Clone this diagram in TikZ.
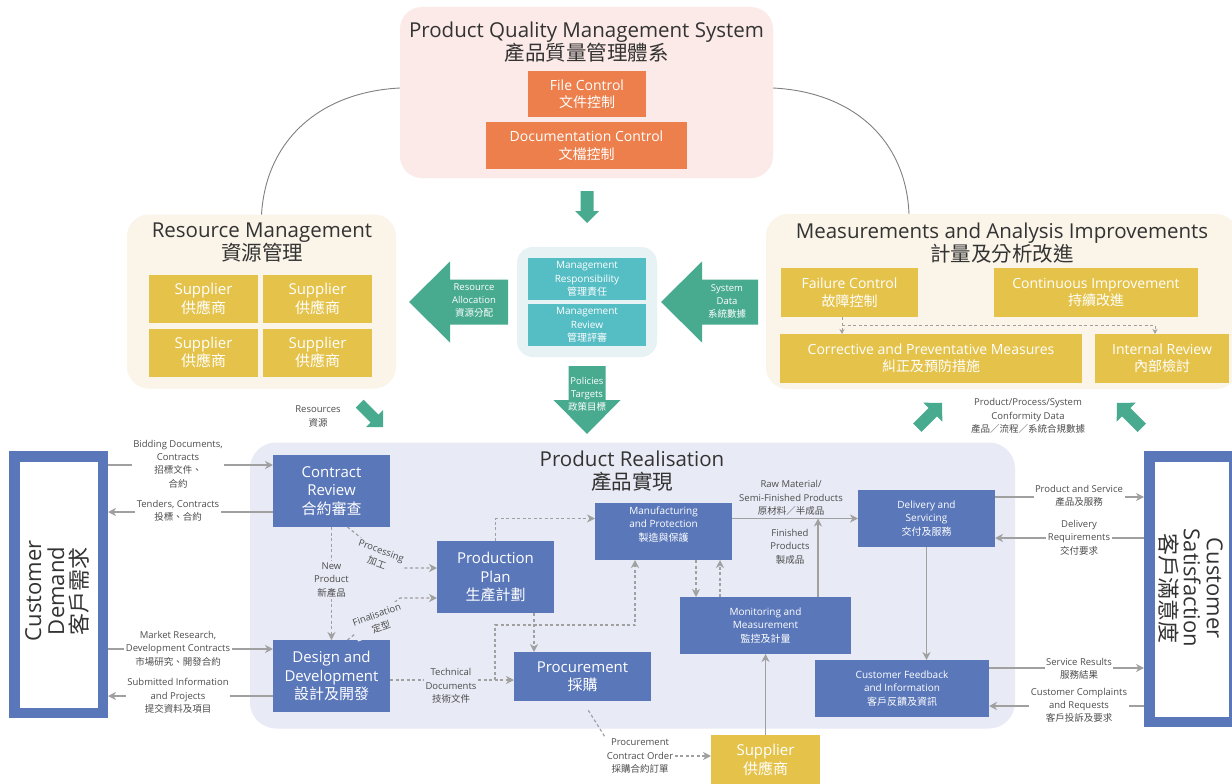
\documentclass[tikz,border=0pt]{standalone}
\usepackage{fontspec}
\setmainfont{Open Sans}
\newfontfamily\cjk{Noto Sans CJK TC}
\newcommand{\zh}[1]{{\cjk #1}}
\usetikzlibrary{arrows.meta,calc}
\definecolor{bluebox}{HTML}{5A77BA}
\definecolor{yel}{HTML}{E5C34B}
\definecolor{grn}{HTML}{48AA8F}
\definecolor{tealbox}{HTML}{55BDC4}
\definecolor{lav}{HTML}{E8EAF5}
\definecolor{cream}{HTML}{FAF4E9}
\definecolor{pinkbg}{HTML}{FBEAE7}
\definecolor{orng}{HTML}{EC7F4B}
\definecolor{lblue}{HTML}{E6F2F4}
\definecolor{lgray}{HTML}{A0A0A0}
\definecolor{labelc}{HTML}{4D4D4D}
\definecolor{titlec}{HTML}{333333}
\newcommand{\fatarrow}[7]{\fill[grn, shift={(#1,#2)}, rotate=#3] (0,0) -- (-#5,#6/2) -- (-#5,#7/2) -- (-#4,#7/2) -- (-#4,-#7/2) -- (-#5,-#7/2) -- (-#5,-#6/2) -- cycle;}
\tikzset{
 panel/.style={rounded corners=22pt, inner sep=0pt, outer sep=0pt},
 box/.style={inner sep=0pt, outer sep=0pt, align=center, text=white},
 bbox/.style={box, fill=bluebox},
 ybox/.style={box, fill=yel},
 obox/.style={box, fill=orng},
 tbox/.style={box, fill=tealbox},
 fbig/.style={font=\fontsize{15}{18.5}\selectfont},
 fmid/.style={font=\fontsize{14}{17.5}\selectfont},
 fsmall/.style={font=\fontsize{10}{13.3}\selectfont},
 ttl/.style={inner sep=0pt, align=center, text=titlec, font=\fontsize{20.5}{23}\selectfont},
 lbl/.style={inner sep=1.5pt, align=center, text=labelc, font=\fontsize{9.5}{13.3}\selectfont},
 glbl/.style={inner sep=0pt, align=center, text=white, font=\fontsize{9.5}{13}\selectfont},
 conn/.style={draw=lgray, line width=1.4pt, -{Stealth[length=8pt,width=8pt,inset=2.5pt]}},
 dsh/.style={conn, line width=1.2pt, dash pattern=on 3pt off 2.5pt},
 smalltip/.style={-{Stealth[length=5pt,width=5pt]}},
 curve/.style={draw=gray, line width=0.9pt},
 cbord/.style={draw=bluebox, line width=10.5pt, fill=white, inner sep=0pt, outer sep=5.25pt},
 ctext/.style={align=center, text=titlec, inner sep=0pt, font=\fontsize{22}{23}\selectfont},
}
\begin{document}
\begin{tikzpicture}[x=1pt,y=-1pt]
\useasboundingbox (0,0) rectangle (1232,784);
\fill[white] (0,0) rectangle (1232,784);

% ---------- panels ----------
\node[panel, fill=pinkbg, minimum width=373, minimum height=171] (pqms) at (586.5,92.5) {};
\node[panel, fill=cream, minimum width=269, minimum height=174] (rm) at (261.5,301.5) {};
\node[panel, fill=cream, minimum width=472, minimum height=175] (mai) at (1002,301.5) {};
\node[panel, rounded corners=16pt, fill=lblue, minimum width=140, minimum height=110] (mg) at (587,302) {};
\node[panel, rounded corners=26pt, fill=lav, minimum width=765, minimum height=286] (pr) at (632.5,585.5) {};

% ---------- curves ----------
\coordinate (pqL) at (400,88);
\coordinate (pqR) at (773,88);
\coordinate (maiN) at (909,214);
\draw[curve] (pqL) .. controls (320,92) and (266,140) .. (rm.north);
\draw[curve] (pqR) .. controls (853,92) and (906,140) .. (maiN);

% ---------- titles ----------
\node[ttl] (pqmsT) at (586.5,42) {Product Quality Management System\\\zh{產品質量管理體系}};
\node[ttl] (rmT) at (262,242.5) {Resource Management\\\zh{資源管理}};
\node[ttl] (maiT) at (1002,243) {Measurements and Analysis Improvements\\\zh{計量及分析改進}};
\node[ttl] (prT) at (632,471) {Product Realisation\\\zh{產品實現}};

% ---------- PQMS boxes ----------
\node[obox, fmid, minimum width=118, minimum height=46] (fc) at (587,94) {File Control\\\zh{文件控制}};
\node[obox, fmid, minimum width=201, minimum height=47] (dc) at (586.5,145.5) {Documentation Control\\\zh{文檔控制}};

% ---------- Resource management ----------
\node[ybox, fbig, minimum width=109, minimum height=48] (s1) at (203.5,299) {Supplier\\\zh{供應商}};
\node[ybox, fbig, minimum width=109, minimum height=48] (s2) at (317.5,299) {Supplier\\\zh{供應商}};
\node[ybox, fbig, minimum width=109, minimum height=48] (s3) at (203.5,352.5) {Supplier\\\zh{供應商}};
\node[ybox, fbig, minimum width=109, minimum height=48] (s4) at (317.5,352.5) {Supplier\\\zh{供應商}};

% ---------- management ----------
\node[tbox, fsmall, minimum width=118, minimum height=42] (mresp) at (587,279) {Management\\Responsibility\\\zh{管理責任}};
\node[tbox, fsmall, minimum width=118, minimum height=42] (mrev) at (587,325) {Management\\Review\\\zh{管理評審}};

% ---------- MAI boxes ----------
\node[ybox, fmid, minimum width=137, minimum height=49] (fail) at (849.5,292.5) {Failure Control\\\zh{故障控制}};
\node[ybox, fmid, minimum width=204, minimum height=49] (cont) at (1096,292.5) {Continuous Improvement\\\zh{持續改進}};
\node[ybox, fmid, minimum width=302, minimum height=49] (corr) at (931,358.5) {Corrective and Preventative Measures\\\zh{糾正及預防措施}};
\node[ybox, fmid, minimum width=134, minimum height=49] (irev) at (1162,358.5) {Internal Review\\\zh{內部檢討}};
\coordinate (mj) at (842,325);
\coordinate (mk) at (1155,325);
\draw[dsh, smalltip, line width=1pt] (fail.south -| mj) -- (corr.north -| mj);
\draw[dsh, smalltip, line width=1pt] (mj) -- (mk) -- (irev.north -| mk);

% ---------- fat green arrows ----------
\fatarrow{587}{223}{-90}{32}{12}{24}{13}
\fatarrow{409}{302}{180}{99}{41}{81}{45}
\fatarrow{661}{302}{180}{97}{41}{81}{45}
\fatarrow{587}{434}{-90}{68}{34}{67}{37}
\fatarrow{383}{427}{-45}{33}{12}{24}{11}
\fatarrow{942}{403}{45}{35}{13}{27}{12}
\fatarrow{1117}{403}{135}{35}{13}{27}{12}
\node[glbl] (ra) at (474,301) {Resource\\Allocation\\\zh{資源分配}};
\node[glbl] (sd) at (727,301) {System\\Data\\\zh{系統數據}};
\node[glbl] (pt) at (587,394) {Policies\\Targets\\\zh{政策目標}};
\node[lbl] (res) at (318,416.5) {Resources\\\zh{資源}};
\node[lbl] (conf) at (1028,416) {Product/Process/System\\Conformity Data\\\zh{產品／流程／系統合規數據}};

% ---------- customer boxes ----------
\node[cbord, minimum width=88.5, minimum height=256.5] (cd) at (58.5,584.5) {};
\node[ctext, rotate=90] (cdT) at (57,591) {Customer\\Demand\\\zh{客戶需求}};
\node[cbord, minimum width=84.5, minimum height=265.5] (cs) at (1191.5,589) {};
\node[ctext, rotate=-90] (csT) at (1191,588) {Customer\\Satisfaction\\\zh{客戶滿意度}};

% ---------- realisation boxes ----------
\node[bbox, fbig, minimum width=117, minimum height=72] (cr) at (331.5,491) {Contract\\Review\\\zh{合約審查}};
\node[bbox, fbig, minimum width=117, minimum height=72] (dd) at (331.5,676) {Design and\\Development\\\zh{設計及開發}};
\node[bbox, fbig, minimum width=117, minimum height=72] (pp) at (495.5,577) {Production\\Plan\\\zh{生產計劃}};
\node[bbox, fbig, minimum width=137, minimum height=49] (proc) at (582.5,676.5) {Procurement\\\zh{採購}};
\node[bbox, minimum width=137, minimum height=57] (mfg) at (663.5,531.5) {};
\node[box, fsmall] (mfgT) at (663.5,524.5) {Manufacturing\\and Protection\\\zh{製造與保護}};
\node[bbox, fsmall, minimum width=171, minimum height=57] (mon) at (765.5,625.5) {Monitoring and\\Measurement\\\zh{監控及計量}};
\node[bbox, fsmall, minimum width=137, minimum height=57] (dl) at (926.5,518.5) {Delivery and\\Servicing\\\zh{交付及服務}};
\node[bbox, fsmall, minimum width=174, minimum height=57] (cf) at (902,688.5) {Customer Feedback\\and Information\\\zh{客戶反饋及資訊}};
\node[ybox, fbig, minimum width=109, minimum height=50] (sup) at (765.5,760) {Supplier\\\zh{供應商}};

% ---------- left connectors ----------
\coordinate (yA) at (0,465);
\coordinate (yB) at (0,512);
\coordinate (yC) at (0,649);
\coordinate (yD) at (0,696);
\draw[conn] (cd.east |- yA) -- (cr.west |- yA);
\draw[conn] (cr.west |- yB) -- (cd.east |- yB);
\draw[conn] (cd.east |- yC) -- (dd.west |- yC);
\draw[conn] (dd.west |- yD) -- (cd.east |- yD);
\node[lbl, fill=white] (lA) at (178,464) {Bidding Documents,\\Contracts\\\zh{招標文件、}\\\zh{合約}};
\node[lbl, fill=white] (lB) at (178,511) {Tenders, Contracts\\\zh{投標、合約}};
\node[lbl, fill=white] (lC) at (178,648.5) {Market Research,\\Development Contracts\\\zh{市場研究、開發合約}};
\node[lbl, fill=white] (lD) at (178,696) {Submitted Information\\and Projects\\\zh{提交資料及項目}};

% ---------- right connectors ----------
\coordinate (yE) at (0,497);
\coordinate (yF) at (0,538);
\coordinate (yG) at (0,668);
\coordinate (yH) at (0,706);
\draw[conn] (dl.east |- yE) -- (cs.west |- yE);
\draw[conn] (cs.west |- yF) -- (dl.east |- yF);
\draw[conn] (cf.east |- yG) -- (cs.west |- yG);
\draw[conn] (cs.west |- yH) -- (cf.east |- yH);
\node[lbl, fill=white] (lE) at (1079,496) {Product and Service\\\zh{產品及服務}};
\node[lbl, fill=white] (lF) at (1079,537.5) {Delivery\\Requirements\\\zh{交付要求}};
\node[lbl, fill=white] (lG) at (1079,668.5) {Service Results\\\zh{服務結果}};
\node[lbl, fill=white] (lH) at (1079,705.5) {Customer Complaints\\and Requests\\\zh{客戶投訴及要求}};

% ---------- internal connectors ----------
\draw[dsh] (cr.south) -- (dd.north);
\node[lbl, fill=lav] (lNP) at (331.5,580) {New\\Product\\\zh{新產品}};

\coordinate (prc1) at (398,568);
\draw[dsh] ($(cr.south)+(16,0)$) -- (prc1) -- (pp.west |- prc1);
\node[lbl, fill=lav, rotate=-20] (lPr) at (379,557) {Processing\\\zh{加工}};

\coordinate (fin1) at (400,598);
\draw[dsh] ($(dd.north)+(16,0)$) -- (fin1) -- (pp.west |- fin1);
\node[lbl, fill=lav, rotate=20] (lFi) at (379,621) {Finalisation\\\zh{定型}};

\draw[dsh] (pp.north) |- (mfg.west |- dl.west);
\draw[dsh] ($(pp.south east)+(-20,0)$) coordinate (ppS) -- (proc.north -| ppS);

\coordinate (td) at (495,680);
\coordinate (tdb) at (635,625);
\draw[dsh] (dd.east |- td) -- (proc.west |- td);
\draw[dsh] (td) |- (tdb) -- (mfg.south -| tdb);
\node[lbl, fill=lav] (lTD) at (451,686) {Technical\\Documents\\\zh{技術文件}};

\coordinate (xa) at (696,0);
\coordinate (xb) at (720,0);
\draw[dsh] (mfg.south -| xa) -- (mon.north -| xa);
\draw[dsh] (mon.north -| xb) -- (mfg.south -| xb);

\draw[conn] (mfg.east |- dl.west) -- (dl.west);
\node[lbl] (lRM) at (791,498) {Raw Material/\\Semi-Finished Products\\\zh{原材料／半成品}};
\coordinate (xf) at (818,0);
\draw[conn] (mon.north -| xf) -- (xf |- dl.west);
\node[lbl] (lFP) at (790,546.5) {Finished\\Products\\\zh{製成品}};

\draw[conn] (dl.south) -- (cf.north -| dl.south);
\draw[conn] (sup.north) -- (mon.south -| sup.north);

\node[lbl] (pco) at (640,756) {Procurement\\Contract Order\\\zh{採購合約訂單}};
\draw[dsh, -, shorten <=11pt] (proc.south) -- (pco.north west);
\draw[dsh] (pco.east) -- (sup.west |- pco.east);
\end{tikzpicture}
\end{document}
